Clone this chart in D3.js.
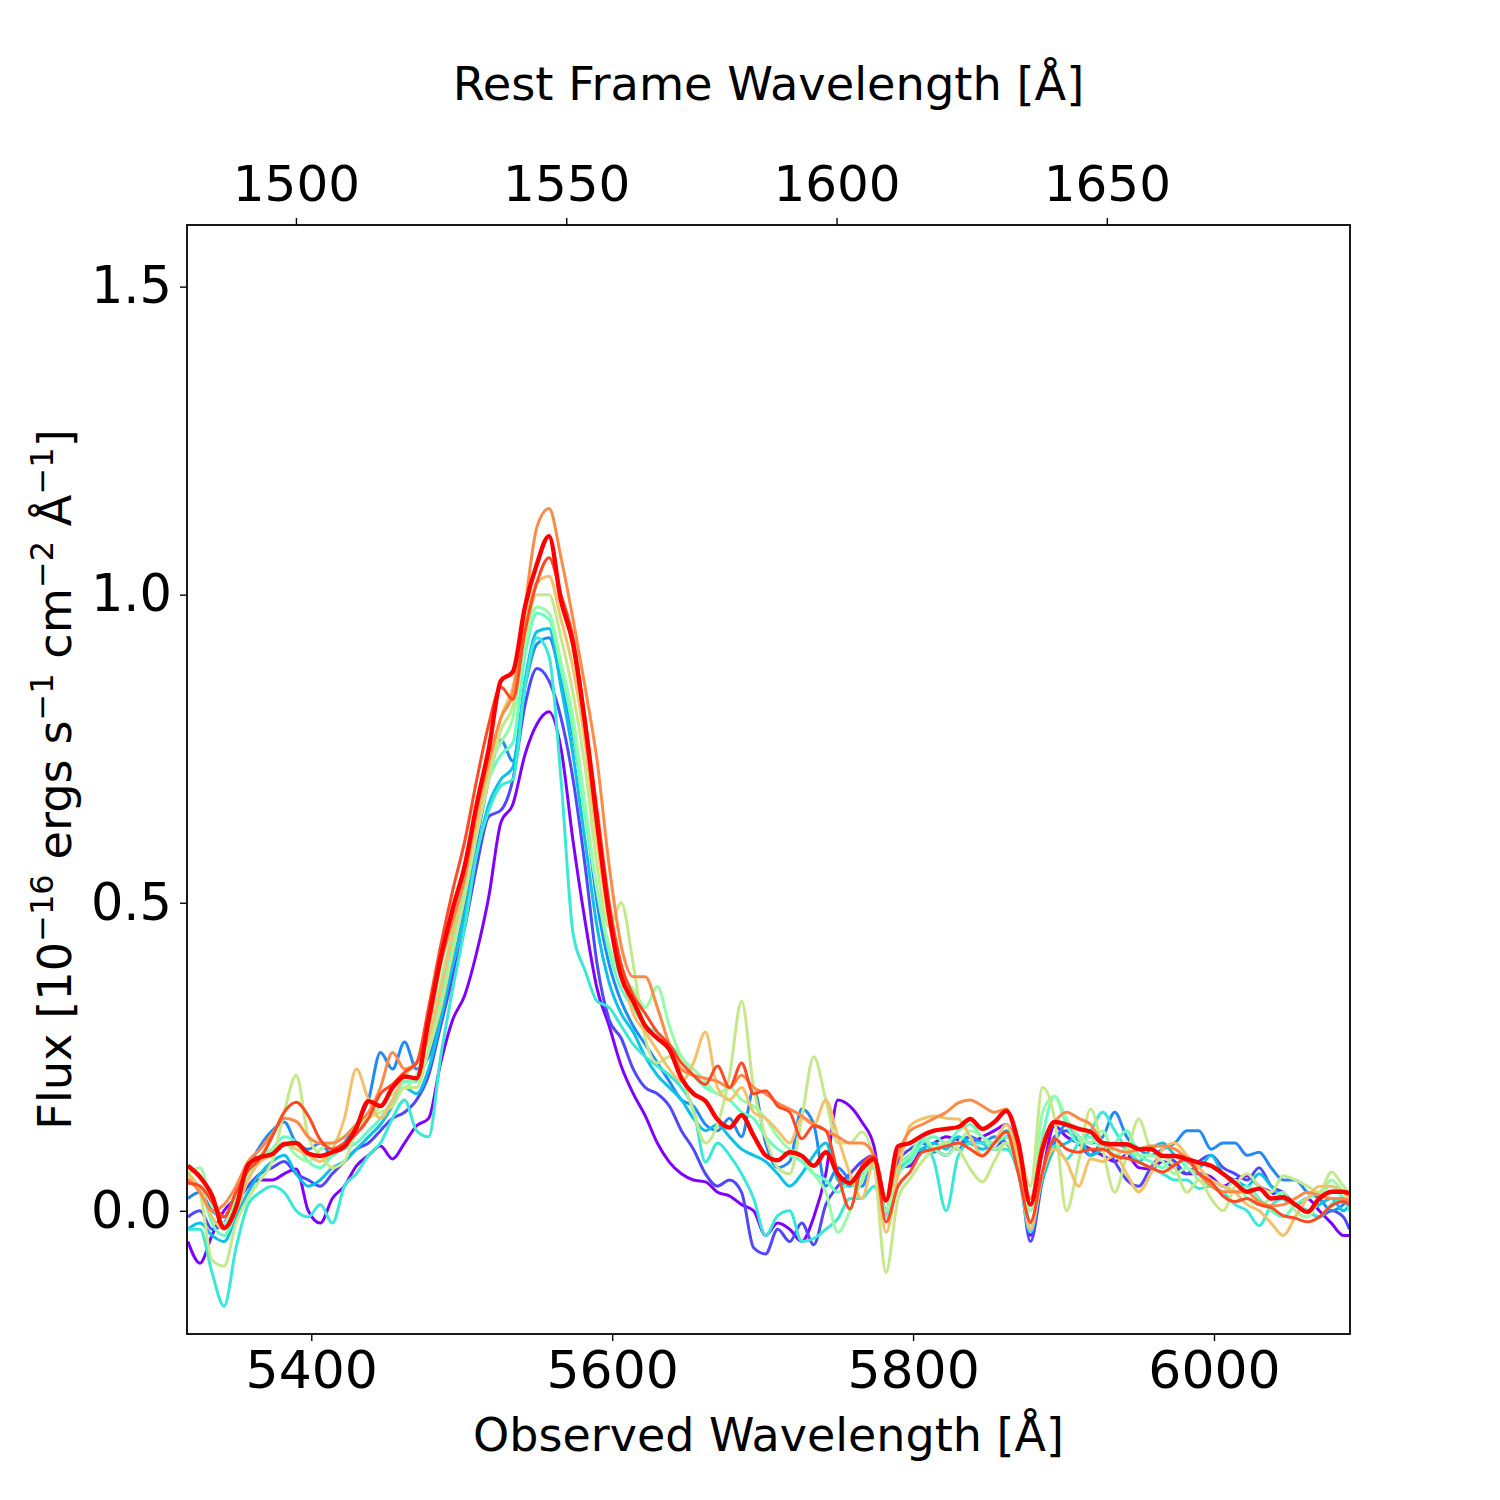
<!DOCTYPE html>
<html>
<head>
<meta charset="utf-8">
<script src="https://cdn.jsdelivr.net/npm/d3@7"></script>
<style>
  body { margin: 0; background: #fff; }
  svg text { font-family: "DejaVu Sans", sans-serif; fill: #000; }
</style>
</head>
<body>
<div id="chart"></div>
<script>
// observed wavelength grid (Angstrom)
const wave = [
  5318,5326,5334,5342,5350,5358,5366,5374,5382,5390,
  5398,5406,5414,5422,5430,5438,5446,5454,5462,5470,
  5478,5486,5494,5502,5510,5518,5526,5534,5542,5550,
  5558,5566,5574,5582,5590,5598,5606,5614,5622,5630,
  5638,5646,5654,5662,5670,5678,5686,5694,5702,5710,
  5718,5726,5734,5742,5750,5758,5766,5774,5782,5790,
  5798,5806,5814,5822,5830,5838,5846,5854,5862,5870,
  5878,5886,5894,5902,5910,5918,5926,5934,5942,5950,
  5958,5966,5974,5982,5990,5998,6006,6014,6022,6030,
  6038,6046,6054,6062,6070,6078,6086,6090
];

// 1 + z, used for the rest frame axis on top
const restFactor = 3.5932;

const xTicks = [5400, 5600, 5800, 6000];
const restTicks = [1500, 1550, 1600, 1650];
const yTicks = [0.0, 0.5, 1.0, 1.5];

// flux per epoch, 1e-16 erg/s/cm2/A
const flux0 = [
  -0.050,-0.085,-0.040,0.000,0.020,0.040,0.050,0.050,0.060,0.068,
  0.000,-0.020,0.020,0.040,0.073,0.090,0.105,0.084,0.110,0.138,
  0.150,0.240,0.310,0.350,0.420,0.510,0.630,0.660,0.740,0.790,
  0.810,0.750,0.600,0.470,0.360,0.300,0.235,0.190,0.154,0.110,
  0.079,0.060,0.050,0.047,0.030,0.024,0.010,0.000,-0.040,-0.020,
  -0.030,-0.050,-0.010,0.060,0.180,0.170,0.144,0.105,-0.010,0.070,
  0.073,0.100,0.110,0.120,0.115,0.110,0.120,0.130,0.140,0.090,
  -0.040,0.060,0.138,0.120,0.110,0.100,0.090,0.080,0.090,0.070,
  0.068,0.080,0.070,0.060,0.060,0.055,0.040,0.050,0.057,0.040,
  0.030,0.020,0.010,0.020,0.000,-0.020,-0.040,-0.040
];
const flux1 = [
  -0.010,0.000,-0.030,-0.020,0.010,0.040,0.060,0.070,0.080,0.060,
  0.050,0.040,0.060,0.080,0.100,0.110,0.130,0.150,0.160,0.180,
  0.220,0.300,0.380,0.460,0.560,0.640,0.650,0.700,0.820,0.880,
  0.860,0.800,0.700,0.560,0.400,0.310,0.280,0.230,0.200,0.190,
  0.170,0.130,0.100,0.060,0.040,0.050,0.030,-0.060,-0.070,-0.030,
  -0.050,-0.020,-0.055,0.010,0.040,0.060,0.080,0.090,0.000,0.080,
  0.100,0.110,0.100,0.090,0.110,0.120,0.110,0.100,0.120,0.080,
  -0.050,0.050,0.120,0.130,0.110,0.090,0.110,0.080,0.050,0.040,
  0.070,0.090,0.080,0.060,0.080,0.090,0.070,0.060,0.050,0.070,
  0.040,0.030,0.010,0.000,-0.010,0.000,-0.010,-0.030
];
const flux2 = [
  0.020,0.030,0.000,-0.010,0.030,0.070,0.105,0.130,0.144,0.110,
  0.100,0.110,0.090,0.110,0.140,0.180,0.257,0.230,0.274,0.230,
  0.250,0.320,0.400,0.490,0.600,0.700,0.764,0.730,0.850,0.920,
  0.930,0.860,0.770,0.650,0.500,0.400,0.340,0.300,0.270,0.240,
  0.210,0.180,0.170,0.140,0.130,0.150,0.120,0.197,0.110,0.070,
  0.080,0.165,0.140,0.040,0.070,0.050,0.040,0.080,0.000,0.060,
  0.090,0.100,0.095,0.110,0.100,0.120,0.110,0.120,0.110,0.070,
  -0.030,0.060,0.110,0.140,0.120,0.110,0.120,0.160,0.120,0.100,
  0.090,0.100,0.110,0.130,0.130,0.100,0.110,0.110,0.090,0.095,
  0.070,0.050,0.050,0.030,0.020,0.000,0.010,0.020
];
const flux3 = [
  -0.030,-0.020,-0.040,-0.050,-0.010,0.030,0.060,0.080,0.090,0.060,
  0.040,0.050,0.070,0.080,0.100,0.120,0.140,0.170,0.200,0.190,
  0.230,0.310,0.400,0.480,0.580,0.660,0.700,0.720,0.860,0.940,
  0.945,0.850,0.740,0.600,0.460,0.370,0.320,0.290,0.250,0.220,
  0.200,0.180,0.150,0.130,0.140,0.120,0.100,0.090,0.080,0.060,
  0.040,0.060,0.090,0.110,0.050,0.040,0.060,0.070,0.000,0.070,
  0.090,0.100,0.110,0.100,0.120,0.110,0.100,0.110,0.130,0.090,
  -0.020,0.050,0.100,0.110,0.120,0.090,0.100,0.110,0.100,0.080,
  0.100,0.110,0.090,0.080,0.070,0.090,0.060,0.050,0.040,0.060,
  0.040,0.020,0.010,0.000,0.010,0.020,0.000,0.010
];
const flux4 = [
  -0.030,-0.030,-0.100,-0.155,-0.060,0.010,0.030,0.040,0.030,0.000,
  -0.010,0.010,-0.020,0.040,0.060,0.090,0.110,0.150,0.180,0.130,
  0.120,0.250,0.360,0.460,0.580,0.650,0.690,0.700,0.850,0.930,
  0.900,0.700,0.450,0.390,0.340,0.330,0.300,0.270,0.250,0.235,
  0.220,0.200,0.165,0.079,0.110,0.090,0.060,0.020,-0.040,-0.008,
  0.000,-0.050,-0.045,-0.030,-0.013,0.020,0.020,0.040,0.000,0.070,
  0.084,0.117,0.080,0.000,0.089,0.110,0.110,0.100,0.100,0.060,
  -0.035,0.060,0.105,0.084,0.110,0.130,0.160,0.130,0.100,0.080,
  0.070,0.060,0.050,0.050,0.036,0.040,0.030,0.010,0.000,-0.024,
  0.008,0.020,0.010,0.000,-0.010,0.010,0.020,0.000
];
const flux5 = [
  0.050,0.040,-0.020,-0.040,0.000,0.060,0.080,0.100,0.120,0.110,
  0.080,0.070,0.090,0.100,0.110,0.130,0.150,0.180,0.210,0.210,
  0.260,0.340,0.430,0.520,0.620,0.700,0.740,0.760,0.900,0.970,
  0.960,0.880,0.780,0.640,0.520,0.420,0.360,0.330,0.300,0.290,
  0.270,0.250,0.220,0.200,0.190,0.180,0.160,0.150,0.120,0.100,
  0.090,0.080,0.060,0.050,0.030,0.050,0.060,0.070,-0.010,0.060,
  0.080,0.110,0.120,0.110,0.130,0.140,0.120,0.110,0.120,0.080,
  0.000,0.120,0.186,0.140,0.110,0.120,0.100,0.110,0.130,0.090,
  0.080,0.070,0.090,0.070,0.060,0.050,0.040,0.030,0.040,0.020,
  0.000,-0.010,0.010,0.020,0.030,0.040,0.020,0.010
];
const flux6 = [
  0.060,0.070,0.010,-0.020,0.020,0.060,0.090,0.100,0.110,0.090,
  0.080,0.100,0.110,0.120,0.140,0.150,0.170,0.190,0.200,0.220,
  0.280,0.370,0.460,0.550,0.650,0.720,0.760,0.800,0.920,0.980,
  0.970,0.890,0.800,0.660,0.520,0.430,0.380,0.360,0.330,0.364,
  0.300,0.250,0.230,0.210,0.190,0.200,0.180,0.170,0.150,0.120,
  0.100,0.090,0.060,0.030,-0.035,0.000,0.050,0.080,0.000,0.070,
  0.090,0.120,0.100,0.090,0.110,0.130,0.120,0.100,0.110,0.070,
  0.000,0.160,0.186,0.150,0.120,0.110,0.130,0.090,0.100,0.090,
  0.090,0.080,0.060,0.070,0.050,0.040,0.030,0.050,0.020,0.010,
  0.020,0.030,0.000,-0.010,0.020,0.050,0.030,0.020
];
const flux7 = [
  0.060,0.030,-0.080,-0.090,-0.020,0.020,0.050,0.080,0.160,0.220,
  0.120,0.090,0.070,0.080,0.130,0.150,0.160,0.170,0.200,0.200,
  0.260,0.330,0.420,0.510,0.610,0.700,0.780,0.820,0.930,1.000,
  1.000,0.930,0.840,0.720,0.560,0.460,0.500,0.400,0.280,0.240,
  0.250,0.220,0.160,0.110,0.140,0.220,0.340,0.200,0.120,0.070,
  0.060,0.150,0.250,0.180,0.110,0.110,0.128,0.080,-0.100,0.020,
  0.052,0.080,0.100,0.110,0.100,0.068,0.047,0.080,0.110,0.100,
  0.040,0.200,0.150,0.000,0.080,0.165,0.100,0.030,0.090,0.149,
  0.100,0.090,0.070,0.030,0.050,0.020,0.000,0.040,0.060,0.040,
  0.030,0.057,0.050,0.040,0.030,0.063,0.040,0.030
];
const flux8 = [
  0.060,0.035,-0.010,-0.030,0.000,0.050,0.080,0.090,0.110,0.100,
  0.090,0.080,0.100,0.150,0.230,0.180,0.150,0.180,0.220,0.240,
  0.280,0.360,0.450,0.540,0.630,0.720,0.800,0.850,0.950,1.020,
  1.030,0.960,0.880,0.760,0.600,0.470,0.390,0.320,0.290,0.260,
  0.230,0.210,0.240,0.290,0.200,0.180,0.200,0.160,0.150,0.130,
  0.110,0.150,0.140,0.180,0.120,0.060,0.020,0.080,-0.035,0.060,
  0.138,0.149,0.154,0.150,0.149,0.120,0.090,0.110,0.140,0.080,
  -0.030,0.060,0.100,0.080,0.040,0.084,0.080,0.090,0.060,0.031,
  0.060,0.100,0.110,0.090,0.070,0.050,0.040,0.030,0.010,0.000,
  -0.020,-0.040,-0.010,0.020,0.040,0.040,0.030,0.020
];
const flux9 = [
  0.052,0.030,0.000,0.010,0.040,0.080,0.100,0.125,0.150,0.145,
  0.120,0.110,0.110,0.120,0.140,0.160,0.200,0.257,0.230,0.240,
  0.300,0.400,0.470,0.540,0.650,0.730,0.800,0.840,0.980,1.110,
  1.140,1.060,0.960,0.850,0.730,0.560,0.430,0.380,0.380,0.330,
  0.270,0.230,0.220,0.215,0.210,0.200,0.220,0.200,0.190,0.175,
  0.165,0.154,0.140,0.130,0.120,0.110,0.110,0.090,0.015,0.090,
  0.130,0.140,0.150,0.160,0.175,0.180,0.170,0.160,0.165,0.100,
  0.020,0.110,0.144,0.160,0.150,0.140,0.110,0.100,0.095,0.100,
  0.105,0.105,0.100,0.084,0.060,0.040,0.031,0.031,0.030,0.015,
  0.008,0.010,0.020,0.030,0.025,0.020,0.020,0.015
];
const flux10 = [
  0.045,0.040,0.015,-0.010,0.030,0.065,0.085,0.120,0.160,0.176,
  0.154,0.115,0.100,0.110,0.125,0.150,0.190,0.205,0.225,0.240,
  0.330,0.430,0.520,0.600,0.700,0.790,0.850,0.830,0.940,1.020,
  1.060,1.000,0.930,0.800,0.650,0.500,0.400,0.350,0.320,0.290,
  0.270,0.240,0.220,0.205,0.235,0.200,0.240,0.190,0.195,0.170,
  0.160,0.117,0.138,0.130,0.060,0.003,0.073,0.089,-0.018,0.040,
  0.063,0.095,0.100,0.105,0.110,0.100,0.089,0.110,0.128,0.060,
  -0.018,0.063,0.117,0.100,0.095,0.100,0.100,0.089,0.085,0.079,
  0.070,0.063,0.075,0.084,0.060,0.047,0.024,0.015,0.020,0.010,
  0.005,-0.008,-0.012,-0.018,-0.010,0.008,0.015,0.010
];
const flux11 = [
  0.073,0.055,0.025,-0.028,0.005,0.075,0.087,0.092,0.108,0.110,
  0.093,0.089,0.095,0.104,0.135,0.178,0.170,0.200,0.218,0.215,
  0.310,0.410,0.490,0.560,0.660,0.750,0.860,0.875,0.980,1.050,
  1.095,0.990,0.920,0.790,0.630,0.480,0.380,0.340,0.300,0.280,
  0.262,0.215,0.190,0.178,0.148,0.135,0.155,0.122,0.090,0.082,
  0.095,0.089,0.073,0.095,0.060,0.045,0.068,0.084,0.017,0.105,
  0.110,0.122,0.130,0.133,0.136,0.149,0.133,0.144,0.162,0.110,
  0.010,0.100,0.144,0.140,0.133,0.128,0.110,0.108,0.108,0.100,
  0.100,0.089,0.089,0.084,0.078,0.073,0.060,0.045,0.031,0.036,
  0.020,0.022,0.010,-0.002,0.020,0.031,0.031,0.028
];

// rainbow colormap, first epoch to last
const colors = [
  "#8000ff","#5148fc","#238af5","#0cc1e8","#3ae8d6","#68fcc1",
  "#97fca7","#c5e88a","#f3c16a","#ff8a48","#ff4824","#ff0000"
];

const spectra = [flux0, flux1, flux2, flux3, flux4, flux5,
                 flux6, flux7, flux8, flux9, flux10, flux11];

const margin = {top: 225, right: 150, bottom: 166, left: 187};
const width = 1500 - margin.left - margin.right;
const height = 1500 - margin.top - margin.bottom;

const svg = d3.select("#chart").append("svg")
  .attr("width", 1500)
  .attr("height", 1500);

const g = svg.append("g")
  .attr("transform", "translate(" + margin.left + "," + margin.top + ")");

const x = d3.scaleLinear().domain([5317.4, 6090.4]).range([0, width]);
const xRest = d3.scaleLinear()
  .domain([5317.4 / restFactor, 6090.4 / restFactor])
  .range([0, width]);
const y = d3.scaleLinear().domain([-0.2, 1.6]).range([height, 0]);

g.append("clipPath").attr("id", "clip")
  .append("rect").attr("width", width).attr("height", height);

const line = d3.line()
  .curve(d3.curveMonotoneX)
  .x(function (d, i) { return x(wave[i]); })
  .y(function (d) { return y(d); });

spectra.forEach(function (s, i) {
  g.append("path")
    .attr("clip-path", "url(#clip)")
    .attr("fill", "none")
    .attr("stroke", colors[i])
    .attr("stroke-width", i === spectra.length - 1 ? 4.4 : 3.0)
    .attr("stroke-linejoin", "round")
    .attr("d", line(s));
});

// axes
const xAxis = g.append("g")
  .attr("transform", "translate(0," + height + ")")
  .call(d3.axisBottom(x).tickValues(xTicks).tickSize(7).tickPadding(10).tickFormat(d3.format("d")));

const topAxis = g.append("g")
  .call(d3.axisTop(xRest).tickValues(restTicks).tickSize(7).tickPadding(17).tickFormat(d3.format("d")));

const yAxis = g.append("g")
  .call(d3.axisLeft(y).tickValues(yTicks).tickSize(7).tickPadding(8).tickFormat(d3.format(".1f")));

[xAxis, topAxis, yAxis].forEach(function (a) {
  a.select(".domain").remove();
  a.selectAll(".tick line").attr("stroke", "#000").attr("stroke-width", 1.4);
  a.selectAll(".tick text").attr("font-family", "DejaVu Sans");
});
xAxis.selectAll(".tick text").attr("font-size", 52);
topAxis.selectAll(".tick text").attr("font-size", 50);
yAxis.selectAll(".tick text").attr("font-size", 51);

g.append("rect")
  .attr("width", width)
  .attr("height", height)
  .attr("fill", "none")
  .attr("stroke", "#000")
  .attr("stroke-width", 1.8);

// labels
svg.append("text")
  .attr("x", margin.left + width / 2)
  .attr("y", 1451)
  .attr("text-anchor", "middle")
  .attr("font-size", 46)
  .text("Observed Wavelength [Å]");

svg.append("text")
  .attr("x", margin.left + width / 2)
  .attr("y", 100)
  .attr("text-anchor", "middle")
  .attr("font-size", 46.3)
  .text("Rest Frame Wavelength [Å]");

const ylab = svg.append("text")
  .attr("transform", "translate(71," + (margin.top + height / 2) + ") rotate(-90)")
  .attr("text-anchor", "middle")
  .attr("font-size", 46.3);

const parts = [
  ["Flux [10", false], ["\u221216", true], [" ergs s", false], ["\u22121", true],
  [" cm", false], ["\u22122", true], [" Å", false], ["\u22121", true], ["]", false]
];
parts.forEach(function (p, i) {
  const t = ylab.append("tspan").text(p[0]);
  if (p[1]) {
    t.attr("font-size", 32).attr("dy", -18);
  } else if (i > 0) {
    t.attr("dy", 18);
  }
});
</script>
</body>
</html>
